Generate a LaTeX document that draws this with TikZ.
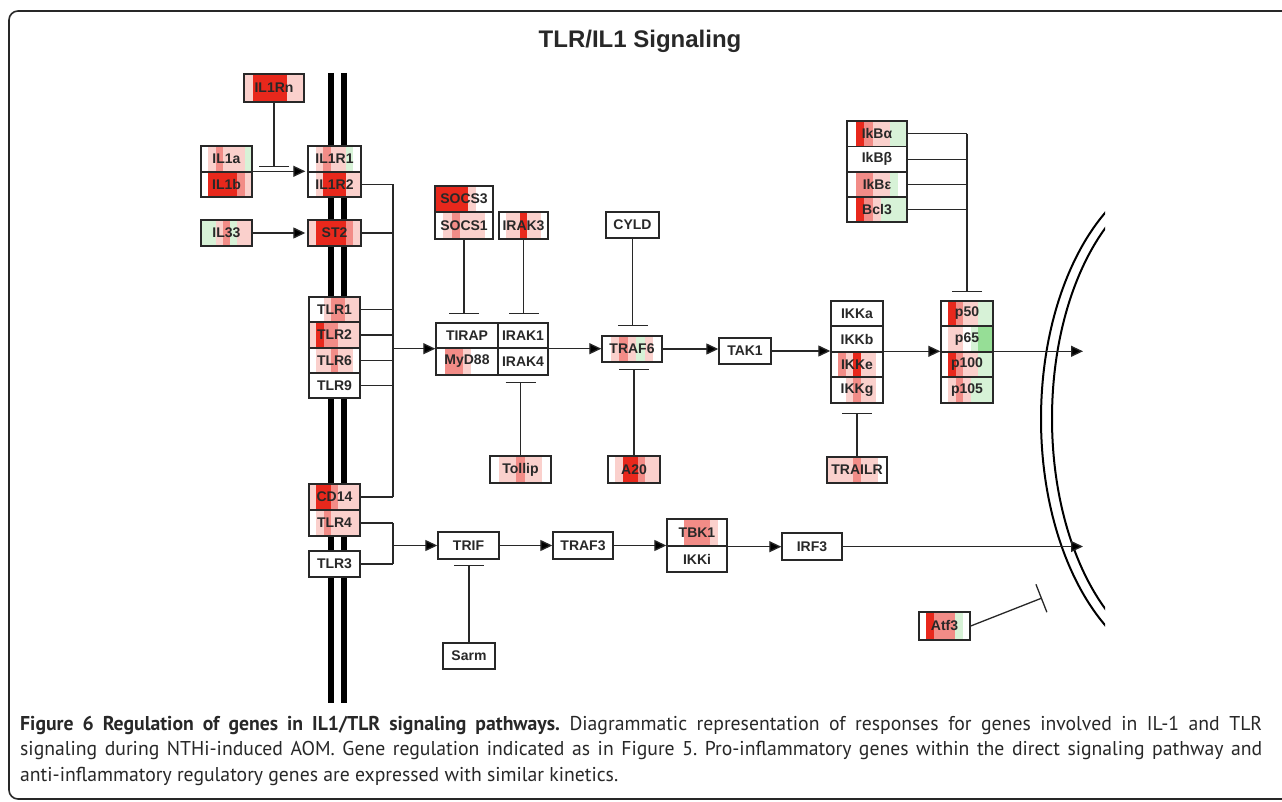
\documentclass[tikz,border=0pt]{standalone}
\usepackage{fontspec}
\setmainfont{Liberation Sans}
\newfontfamily\capfont[FakeStretch=0.985]{PT Sans}
\usetikzlibrary{arrows.meta}
\definecolor{W}{RGB}{255,255,255}
\definecolor{L}{RGB}{250,208,204}
\definecolor{P}{RGB}{242,140,135}
\definecolor{R}{RGB}{232,40,28}
\definecolor{G}{RGB}{215,242,215}
\definecolor{H}{RGB}{150,222,150}
\definecolor{ink}{RGB}{40,40,40}
\tikzset{
  gene/.style={draw=ink, line width=1.4pt, inner sep=0pt,
    font=\fontsize{14}{14}\selectfont\bfseries, text=ink},
  con/.style={line width=1.3pt, draw=ink},
  act/.style={con, -{Triangle[length=12pt,width=11pt,fill=black]}},
  inh/.style={con, -{Bar[width=30pt,line width=1.3pt]}},
  memb/.style={line width=6pt, black},
  nucm/.style={line width=2pt, black}
}
\newcommand\gbox[7]{%
  \foreach \cc [count=\ii from 0] in {#7}{%
    \fill[\cc] ({#2+\ii*(#4-#2)/7},#3) rectangle ({#2+(\ii+1)*(#4-#2)/7},#5);}
  \node[gene, minimum width={#4-#2}, minimum height={#5-#3}] (#1)
    at ({(#2+#4)/2},{(#3+#5)/2}) {#6};
}
\begin{document}
\begin{tikzpicture}[x=1pt,y=-1pt]
\useasboundingbox (0,0) rectangle (1282,802);
\fill[white] (0,0) rectangle (1282,802);
% frame
\draw[line width=1.6pt, ink, rounded corners=9pt] (1300,11) -- (9,11) -- (9,799) -- (1300,799);
% title
\node[font=\fontsize{24}{24}\selectfont\bfseries, text=ink] (title) at (640,41) {TLR/IL1 Signaling};
% plasma membrane
\draw[memb] (331,73) -- (331,703);
\draw[memb] (344,73) -- (344,703);
% nuclear membrane
\begin{scope}
\clip (0,0) rectangle (1105,802);
\draw[nucm] (1191,419) ellipse [x radius=150, y radius=251.5];
\draw[nucm] (1192,418.5) ellipse [x radius=140, y radius=242.5];
\end{scope}
% gene boxes
\gbox{IL1Rn}{244}{74}{304}{102}{IL1Rn}{L,R,R,R,R,L,L}
\gbox{IL1a}{201}{146}{252}{172}{IL1a}{W,L,P,L,L,L,G}
\gbox{IL1b}{201}{172}{252}{197}{IL1b}{W,R,R,R,R,P,L}
\gbox{IL1R1}{308}{146}{361}{172}{IL1R1}{W,L,P,L,L,G,W}
\gbox{IL1R2}{308}{172}{361}{197}{IL1R2}{W,L,R,R,R,L,L}
\gbox{IL33}{201}{220}{252}{246}{IL33}{G,G,L,P,G,L,L}
\gbox{ST2}{308}{220}{361}{246}{ST2}{L,R,R,R,R,P,L}
\gbox{TLR1}{309}{297}{360}{322}{TLR1}{W,W,L,P,P,L,L}
\gbox{TLR2}{309}{322}{360}{348}{TLR2}{L,R,P,P,L,L,L}
\gbox{TLR6}{309}{348}{360}{373}{TLR6}{W,L,L,P,L,L,W}
\gbox{TLR9}{309}{373}{360}{398}{TLR9}{W,W,W,W,W,W,W}
\gbox{CD14}{309}{484}{360}{510}{CD14}{L,R,R,P,L,L,L}
\gbox{TLR4}{309}{510}{360}{536}{TLR4}{W,L,P,L,L,L,L}
\gbox{TLR3}{309}{551}{360}{577}{TLR3}{W,W,W,W,W,W,W}
\gbox{SOCS3}{435}{186}{493}{212}{SOCS3}{R,R,R,R,L,W,W}
\gbox{SOCS1}{435}{212}{493}{239}{SOCS1}{W,L,P,L,L,L,W}
\gbox{IRAK3}{499}{212}{548}{239}{IRAK3}{W,L,L,R,L,L,W}
\gbox{CYLD}{606}{212}{659}{238}{CYLD}{W,W,W,W,W,W,W}
\gbox{TIRAP}{436}{323}{498}{348}{TIRAP}{W,W,W,W,W,W,W}
\gbox{IRAK1}{498}{323}{548}{348}{IRAK1}{W,W,W,W,W,W,W}
\gbox{MyD88}{436}{348}{498}{375}{MyD88}{W,P,P,L,W,W,W}
\gbox{IRAK4}{498}{348}{548}{375}{IRAK4}{W,W,W,W,W,W,W}
\gbox{TRAF6}{602}{336}{662}{362}{TRAF6}{W,L,P,L,G,L,W}
\gbox{Tollip}{490}{456}{551}{483}{Tollip}{W,L,L,P,L,L,W}
\gbox{A20}{608}{456}{660}{483}{A20}{W,L,R,R,P,L,L}
\gbox{TAK1}{719}{338}{771}{364}{TAK1}{W,W,W,W,W,W,W}
\gbox{IKKa}{831}{301}{883}{326}{IKKa}{W,W,W,W,W,W,W}
\gbox{IKKb}{831}{326}{883}{352}{IKKb}{W,W,W,W,W,W,W}
\gbox{IKKe}{831}{352}{883}{377}{IKKe}{W,P,L,R,L,L,W}
\gbox{IKKg}{831}{377}{883}{403}{IKKg}{W,W,L,P,L,L,W}
\gbox{TRAILR}{827}{457}{887}{483}{TRAILR}{L,L,L,P,L,L,W}
\gbox{IkBa}{847}{121}{907}{146.5}{IkBα}{W,R,P,L,L,G,G}
\gbox{IkBb}{847}{146.5}{907}{172}{IkBβ}{W,W,W,W,W,W,W}
\gbox{IkBe}{847}{172}{907}{197}{IkBε}{W,P,P,L,L,G,W}
\gbox{Bcl3}{847}{197}{907}{222}{Bcl3}{W,R,P,L,G,G,G}
\gbox{p50}{941}{301}{993}{326}{p50}{W,R,P,L,L,G,G}
\gbox{p65}{941}{326}{993}{352}{p65}{W,L,L,W,G,H,H}
\gbox{p100}{941}{352}{993}{377}{p100}{W,R,P,L,L,G,G}
\gbox{p105}{941}{377}{993}{403}{p105}{W,L,P,L,G,G,G}
\gbox{TRIF}{438}{532}{499}{559}{TRIF}{W,W,W,W,W,W,W}
\gbox{Sarm}{443}{643}{495}{669}{Sarm}{W,W,W,W,W,W,W}
\gbox{TRAF3}{553}{532}{613}{559}{TRAF3}{W,W,W,W,W,W,W}
\gbox{TBK1}{667}{519}{727}{546}{TBK1}{W,W,P,P,P,L,W}
\gbox{IKKi}{667}{546}{727}{572}{IKKi}{W,W,W,W,W,W,W}
\gbox{IRF3}{782}{533}{842}{560}{IRF3}{W,W,W,W,W,W,W}
\gbox{Atf3}{919}{612}{970}{640}{Atf3}{W,R,P,P,P,G,W}
% helper coordinates
\coordinate (colX) at (393,0);
\coordinate (ibX) at (967,0);
\coordinate (bIL1Rn) at (0,167);
\coordinate (bSOCS) at (0,314);
\coordinate (bCYLD) at (0,326);
\coordinate (bA20) at (0,369);
\coordinate (bTollip) at (0,382);
\coordinate (bTRAILR) at (0,413);
\coordinate (bIkB) at (0,292);
\coordinate (bSarm) at (0,565);
\coordinate (bAtf3) at (1042,598);
\coordinate (nucA) at (1083,0);
% connectors: receptors
\draw[inh] (IL1Rn.south) -- (IL1Rn.south |- bIL1Rn);
\draw[act, shorten >=2pt] (IL1b.north east) -- (IL1R2.north west);
\draw[act, shorten >=2pt] (IL33.east) -- (ST2.west);
\draw[con] (IL1R2.east) -- (IL1R2.east -| colX);
\draw[con] (ST2.east) -- (ST2.east -| colX);
\draw[con] (TLR1.east) -- (TLR1.east -| colX);
\draw[con] (TLR2.east) -- (TLR2.east -| colX);
\draw[con] (TLR6.east) -- (TLR6.east -| colX);
\draw[con] (TLR9.east) -- (TLR9.east -| colX);
\draw[con] (CD14.east) -- (CD14.east -| colX);
\draw[con] (IL1R2.east -| colX) -- (CD14.east -| colX);
\draw[act] (TIRAP.south west -| colX) -- (TIRAP.south west);
\draw[con] (TLR4.east) -- (TLR4.east -| colX);
\draw[con] (TLR3.east) -- (TLR3.east -| colX);
\draw[con] (TLR4.east -| colX) -- (TLR3.east -| colX);
\draw[act] (TRIF.west -| colX) -- (TRIF.west);
% MyD88 branch
\draw[inh] (SOCS1.south) -- (SOCS1.south |- bSOCS);
\draw[inh] (IRAK3.south) -- (IRAK3.south |- bSOCS);
\draw[inh] (Tollip.north) -- (Tollip.north |- bTollip);
\draw[act] (IRAK1.south east) -- (IRAK1.south east -| TRAF6.west);
\draw[inh] (CYLD.south) -- (CYLD.south |- bCYLD);
\draw[inh] (A20.north) -- (A20.north |- bA20);
\draw[act] (TRAF6.east) -- (TRAF6.east -| TAK1.west);
\draw[act] (TAK1.east) -- (TAK1.east -| IKKe.north west);
\draw[inh] (TRAILR.north) -- (TRAILR.north |- bTRAILR);
\draw[act] (IKKe.north east) -- (IKKe.north east -| p100.north west);
\draw[act] (p100.north east) -- (p100.north east -| nucA);
\draw[con] (IkBa.east) -- (IkBa.east -| ibX);
\draw[con] (IkBb.east) -- (IkBb.east -| ibX);
\draw[con] (IkBe.east) -- (IkBe.east -| ibX);
\draw[con] (Bcl3.east) -- (Bcl3.east -| ibX);
\draw[inh] (IkBa.east -| ibX) -- (bIkB -| ibX);
% TRIF branch
\draw[inh] (Sarm.north) -- (Sarm.north |- bSarm);
\draw[act] (TRIF.east) -- (TRIF.east -| TRAF3.west);
\draw[act] (TRAF3.east) -- (TRAF3.east -| TBK1.south west);
\draw[act] (TBK1.south east) -- (TBK1.south east -| IRF3.west);
\draw[act] (IRF3.east) -- (IRF3.east -| nucA);
\draw[inh] (Atf3.east) -- (bAtf3);
% caption
\node[anchor=north west, text width=1242pt, align=justify, inner sep=0pt,
  font=\capfont\fontsize{20}{25.5}\selectfont\frenchspacing, text=ink] (cap) at (20,716)
  {\textbf{Figure 6 Regulation of genes in IL1/TLR signaling pathways.} Diagrammatic representation of responses for genes involved in IL-1 and TLR\linebreak
  signaling during NTHi-induced AOM. Gene regulation indicated as in Figure 5. Pro-inflammatory genes within the direct signaling pathway and\linebreak
  anti-inflammatory regulatory genes are expressed with similar kinetics.};
\end{tikzpicture}
\end{document}
